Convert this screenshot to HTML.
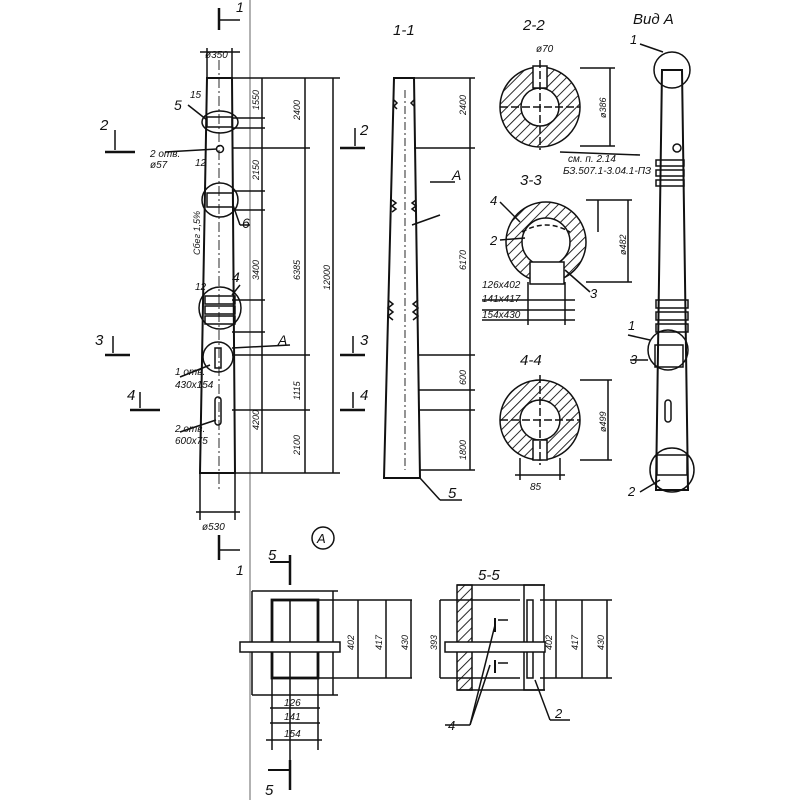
<!DOCTYPE html>
<html><head><style>
body{margin:0;background:#fff}
svg{display:block}
text{font-family:"Liberation Sans",sans-serif;font-style:italic;fill:#111}
</style></head><body>
<svg width="800" height="800" viewBox="0 0 800 800" xmlns="http://www.w3.org/2000/svg">
<defs>
<pattern id="h" width="7" height="7" patternUnits="userSpaceOnUse" patternTransform="rotate(45)">
<rect width="7" height="7" fill="#fff"/><line x1="0" y1="0" x2="0" y2="7" stroke="#111" stroke-width="1.8"/></pattern>
</defs>
<g stroke="#111" fill="none" stroke-width="1.5">
<line x1="250" y1="0" x2="250" y2="800" stroke="#666" stroke-width="1"/>
<line x1="219" y1="8" x2="219" y2="30" stroke-width="2.5"/><line x1="219" y1="20" x2="240" y2="20"/>
<line x1="219" y1="535" x2="219" y2="560" stroke-width="2.5"/><line x1="219" y1="550" x2="240" y2="550"/>
<path d="M207 78 L232 78 L235 473 L200 473 Z" stroke-width="2"/>
<line x1="219" y1="60" x2="219" y2="490" stroke-dasharray="10 3 2 3" stroke-width="0.9"/>
<line x1="207" y1="48" x2="207" y2="78"/><line x1="232" y1="48" x2="232" y2="78"/><line x1="200" y1="52" x2="240" y2="52"/>
<line x1="200" y1="473" x2="200" y2="520"/><line x1="235" y1="473" x2="235" y2="520"/><line x1="196" y1="512" x2="240" y2="512"/>
<ellipse cx="220" cy="122" rx="18" ry="11"/><rect x="207" y="117" width="25" height="10"/>
<circle cx="220" cy="149" r="3.5"/>
<ellipse cx="220" cy="200" rx="18" ry="17"/><rect x="207" y="193" width="26" height="14"/>
<circle cx="220" cy="308" r="21"/><rect x="205" y="296" width="30" height="8"/><rect x="205" y="306" width="30" height="8"/><rect x="205" y="316" width="30" height="8"/>
<circle cx="218" cy="357" r="15"/><rect x="215" y="348" width="6" height="20"/>
<rect x="215" y="397" width="6" height="28" rx="3"/>
<line x1="262" y1="78" x2="262" y2="473"/><line x1="305" y1="78" x2="305" y2="473"/><line x1="333" y1="78" x2="333" y2="473"/>
<line x1="232" y1="78" x2="340" y2="78"/><line x1="235" y1="473" x2="340" y2="473"/>
<line x1="232" y1="118" x2="265" y2="118"/><line x1="232" y1="128" x2="265" y2="128"/>
<line x1="232" y1="148" x2="310" y2="148"/>
<line x1="232" y1="191" x2="265" y2="191"/><line x1="232" y1="210" x2="265" y2="210"/>
<line x1="232" y1="300" x2="265" y2="300"/><line x1="232" y1="332" x2="265" y2="332"/>
<line x1="232" y1="355" x2="310" y2="355"/><line x1="232" y1="410" x2="310" y2="410"/>
<line x1="188" y1="105" x2="207" y2="120"/><line x1="165" y1="152" x2="217" y2="149"/>
<line x1="233" y1="205" x2="240" y2="225"/><line x1="240" y1="225" x2="250" y2="225"/>
<line x1="232" y1="295" x2="240" y2="285"/>
<line x1="232" y1="348" x2="290" y2="345"/>
<line x1="180" y1="377" x2="210" y2="365"/><line x1="180" y1="432" x2="216" y2="420"/>
<line x1="105" y1="152" x2="135" y2="152" stroke-width="2.5"/><line x1="115" y1="130" x2="115" y2="150"/>
<line x1="340" y1="148" x2="365" y2="148" stroke-width="2.5"/><line x1="355" y1="128" x2="355" y2="146"/>
<line x1="105" y1="355" x2="130" y2="355" stroke-width="2.5"/><line x1="113" y1="336" x2="113" y2="353"/>
<line x1="340" y1="355" x2="365" y2="355" stroke-width="2.5"/><line x1="353" y1="336" x2="353" y2="353"/>
<line x1="130" y1="410" x2="160" y2="410" stroke-width="2.5"/><line x1="140" y1="392" x2="140" y2="408"/>
<line x1="340" y1="410" x2="365" y2="410" stroke-width="2.5"/><line x1="353" y1="392" x2="353" y2="408"/>
<path d="M394 78 L414 78 L420 478 L384 478 Z" stroke-width="2"/>
<path d="M394 100 l3 3 -3 3 3 3 M392 200 l4 3 -4 3 4 3 -4 3 M388 300 l5 4 -5 4 5 4 -5 4 5 4" />
<path d="M414 100 l-3 3 3 3 M416 200 l-4 3 4 3 -4 3 4 3 M418 300 l-5 4 5 4 -5 4 5 4 -5 4"/>
<line x1="405" y1="90" x2="405" y2="470" stroke-dasharray="8 3 2 3" stroke-width="0.9"/>
<line x1="420" y1="478" x2="440" y2="500"/><line x1="440" y1="500" x2="462" y2="500"/>
<line x1="470" y1="78" x2="470" y2="470"/>
<line x1="414" y1="78" x2="475" y2="78"/><line x1="414" y1="148" x2="475" y2="148"/><line x1="418" y1="355" x2="475" y2="355"/>
<line x1="418" y1="390" x2="475" y2="390"/><line x1="418" y1="410" x2="475" y2="410"/><line x1="420" y1="470" x2="475" y2="470"/>
<line x1="412" y1="225" x2="440" y2="215"/><line x1="430" y1="182" x2="455" y2="182"/>
<circle cx="540" cy="107" r="40" fill="url(#h)"/><circle cx="540" cy="107" r="19" fill="#fff"/>
<rect x="533" y="66" width="14" height="22" fill="#fff"/>
<line x1="500" y1="107" x2="580" y2="107" stroke-dasharray="8 3"/><line x1="540" y1="60" x2="540" y2="150" stroke-dasharray="8 3"/>
<line x1="580" y1="68" x2="615" y2="68"/><line x1="580" y1="146" x2="615" y2="146"/><line x1="610" y1="68" x2="610" y2="146"/>
<line x1="560" y1="152" x2="640" y2="155"/>
<circle cx="546" cy="242" r="40" fill="url(#h)"/><circle cx="546" cy="242" r="24" fill="#fff"/>
<rect x="530" y="262" width="34" height="22" fill="#fff"/>
<path d="M522 232 Q546 218 570 232" stroke-dasharray="5 3"/>
<line x1="586" y1="200" x2="632" y2="200"/><line x1="586" y1="282" x2="632" y2="282"/><line x1="628" y1="200" x2="628" y2="282"/><line x1="598" y1="200" x2="598" y2="232"/>
<line x1="482" y1="300" x2="575" y2="300"/><line x1="482" y1="310" x2="575" y2="310"/><line x1="482" y1="320" x2="575" y2="320"/>
<line x1="528" y1="282" x2="528" y2="325"/><line x1="565" y1="282" x2="565" y2="325"/>
<line x1="500" y1="202" x2="520" y2="222"/><line x1="500" y1="240" x2="525" y2="238"/><line x1="565" y1="270" x2="590" y2="292"/>
<circle cx="540" cy="420" r="40" fill="url(#h)"/><circle cx="540" cy="420" r="20" fill="#fff"/>
<rect x="533" y="440" width="14" height="20" fill="#fff"/>
<line x1="500" y1="420" x2="580" y2="420" stroke-dasharray="8 3"/><line x1="540" y1="375" x2="540" y2="465" stroke-dasharray="8 3"/>
<line x1="580" y1="380" x2="612" y2="380"/><line x1="580" y1="460" x2="612" y2="460"/><line x1="608" y1="380" x2="608" y2="460"/>
<line x1="520" y1="458" x2="520" y2="480"/><line x1="560" y1="458" x2="560" y2="480"/><line x1="515" y1="475" x2="565" y2="475"/>
<path d="M662 70 L682 70 L688 490 L656 490 Z" stroke-width="2"/>
<circle cx="672" cy="70" r="18"/><circle cx="668" cy="350" r="20"/><circle cx="672" cy="470" r="22"/>
<circle cx="677" cy="148" r="4"/>
<rect x="656" y="300" width="32" height="8"/><rect x="656" y="312" width="32" height="8"/><rect x="656" y="324" width="32" height="8"/>
<rect x="656" y="160" width="28" height="6"/><rect x="656" y="170" width="28" height="6"/><rect x="656" y="180" width="28" height="6"/>
<rect x="655" y="345" width="28" height="22"/><rect x="665" y="400" width="6" height="22" rx="3"/>
<rect x="657" y="455" width="30" height="20"/>
<line x1="640" y1="44" x2="663" y2="52"/><line x1="628" y1="335" x2="650" y2="340"/><line x1="630" y1="360" x2="648" y2="360"/><line x1="640" y1="492" x2="660" y2="480"/>
<circle cx="323" cy="538" r="11"/>
<line x1="290" y1="600" x2="290" y2="770"/>
<line x1="270" y1="562" x2="290" y2="562" stroke-width="2"/><line x1="290" y1="555" x2="290" y2="585" stroke-width="2.5"/>
<line x1="268" y1="770" x2="290" y2="770" stroke-width="2"/><line x1="290" y1="760" x2="290" y2="790" stroke-width="2.5"/>
<line x1="252" y1="591" x2="338" y2="591"/><line x1="252" y1="695" x2="338" y2="695"/>
<line x1="252" y1="591" x2="252" y2="695"/><line x1="333" y1="591" x2="333" y2="695"/>
<rect x="272" y="600" width="46" height="78" stroke-width="2.8"/>
<rect x="240" y="642" width="100" height="10" fill="#fff"/>
<line x1="272" y1="678" x2="272" y2="750"/><line x1="318" y1="678" x2="318" y2="750"/>
<line x1="270" y1="708" x2="320" y2="708"/><line x1="270" y1="723" x2="320" y2="723"/><line x1="266" y1="740" x2="322" y2="740"/>
<line x1="318" y1="600" x2="412" y2="600"/><line x1="318" y1="678" x2="412" y2="678"/>
<line x1="358" y1="600" x2="358" y2="678"/><line x1="386" y1="600" x2="386" y2="678"/><line x1="411" y1="600" x2="411" y2="678"/>
<rect x="457" y="585" width="15" height="105" fill="url(#h)"/>
<line x1="457" y1="585" x2="545" y2="585"/><line x1="457" y1="690" x2="545" y2="690"/>
<rect x="524" y="585" width="20" height="105"/><rect x="527" y="600" width="6" height="78"/>
<line x1="440" y1="600" x2="520" y2="600"/><line x1="440" y1="678" x2="520" y2="678"/>
<line x1="440" y1="600" x2="440" y2="678"/>
<rect x="445" y="642" width="100" height="10" fill="#fff"/>
<line x1="495" y1="618" x2="495" y2="632" stroke-width="2"/><line x1="495" y1="660" x2="495" y2="673" stroke-width="2"/>
<line x1="498" y1="620" x2="508" y2="620"/><line x1="498" y1="663" x2="508" y2="663"/>
<line x1="470" y1="725" x2="495" y2="625"/><line x1="470" y1="725" x2="490" y2="665"/><line x1="445" y1="725" x2="470" y2="725"/>
<line x1="535" y1="680" x2="550" y2="720"/><line x1="550" y1="720" x2="570" y2="720"/>
<line x1="540" y1="600" x2="612" y2="600"/><line x1="540" y1="678" x2="612" y2="678"/>
<line x1="556" y1="600" x2="556" y2="678"/><line x1="582" y1="600" x2="582" y2="678"/><line x1="607" y1="600" x2="607" y2="678"/>
</g>
<g font-size="10">
<text x="205" y="58">ø350</text><text x="202" y="530">ø530</text>
<text x="190" y="98">15</text><text x="174" y="110" font-size="14">5</text>
<text x="150" y="157">2 отв.</text><text x="150" y="168">ø57</text><text x="195" y="166">12</text>
<text x="195" y="290">12</text><text x="242" y="228" font-size="14">6</text><text x="232" y="282" font-size="14">4</text>
<text x="278" y="345" font-size="14">A</text>
<text x="175" y="375">1 отв.</text><text x="175" y="388">430x154</text>
<text x="175" y="432">2 отв.</text><text x="175" y="444">600x75</text>
<text x="100" y="130" font-size="15">2</text><text x="95" y="345" font-size="15">3</text><text x="127" y="400" font-size="15">4</text>
<text x="360" y="135" font-size="15">2</text><text x="360" y="345" font-size="15">3</text><text x="360" y="400" font-size="15">4</text>
<text x="236" y="575" font-size="14">1</text><text x="236" y="12" font-size="14">1</text>
<text x="393" y="35" font-size="15">1-1</text><text x="523" y="30" font-size="15">2-2</text><text x="520" y="185" font-size="15">3-3</text><text x="520" y="365" font-size="15">4-4</text>
<text x="633" y="24" font-size="15">Вид  А</text>
<text x="448" y="498" font-size="15">5</text><text x="452" y="180" font-size="14">A</text>
<text x="536" y="52">ø70</text><text x="568" y="162">см. п. 2.14</text><text x="563" y="174">БЗ.507.1-3.04.1-ПЗ</text>
<text x="490" y="205" font-size="13">4</text><text x="490" y="245" font-size="13">2</text><text x="590" y="298" font-size="13">3</text>
<text x="482" y="288">126x402</text><text x="482" y="302">141x417</text><text x="482" y="318">154x430</text>
<text x="530" y="490">85</text>
<text x="630" y="44" font-size="13">1</text><text x="628" y="330" font-size="13">1</text><text x="630" y="364" font-size="13">3</text><text x="628" y="496" font-size="13">2</text>
<text x="317" y="543" font-size="13">A</text>
<text x="268" y="560" font-size="15">5</text><text x="265" y="795" font-size="15">5</text>
<text x="478" y="580" font-size="15">5-5</text>
<text x="284" y="706">126</text><text x="284" y="720">141</text><text x="284" y="737">154</text>
<text x="448" y="730" font-size="13">4</text><text x="555" y="718" font-size="13">2</text>
</g>
<g font-size="9">
<text transform="translate(259,110) rotate(-90)">1550</text><text transform="translate(300,120) rotate(-90)">2400</text>
<text transform="translate(259,180) rotate(-90)">2150</text><text transform="translate(259,280) rotate(-90)">3400</text>
<text transform="translate(300,280) rotate(-90)">6385</text><text transform="translate(330,290) rotate(-90)">12000</text>
<text transform="translate(259,430) rotate(-90)">4200</text><text transform="translate(300,400) rotate(-90)">1115</text><text transform="translate(300,455) rotate(-90)">2100</text>
<text transform="translate(200,255) rotate(-90)">Сбег 1,5%</text>
<text transform="translate(466,115) rotate(-90)">2400</text><text transform="translate(466,270) rotate(-90)">6170</text>
<text transform="translate(466,385) rotate(-90)">600</text><text transform="translate(466,460) rotate(-90)">1800</text>
<text transform="translate(606,118) rotate(-90)">ø386</text><text transform="translate(626,255) rotate(-90)">ø482</text><text transform="translate(606,432) rotate(-90)">ø499</text>
<text transform="translate(354,650) rotate(-90)">402</text><text transform="translate(382,650) rotate(-90)">417</text><text transform="translate(408,650) rotate(-90)">430</text>
<text transform="translate(552,650) rotate(-90)">402</text><text transform="translate(578,650) rotate(-90)">417</text><text transform="translate(604,650) rotate(-90)">430</text>
<text transform="translate(437,650) rotate(-90)">393</text>
</g>
</svg>
</body></html>
